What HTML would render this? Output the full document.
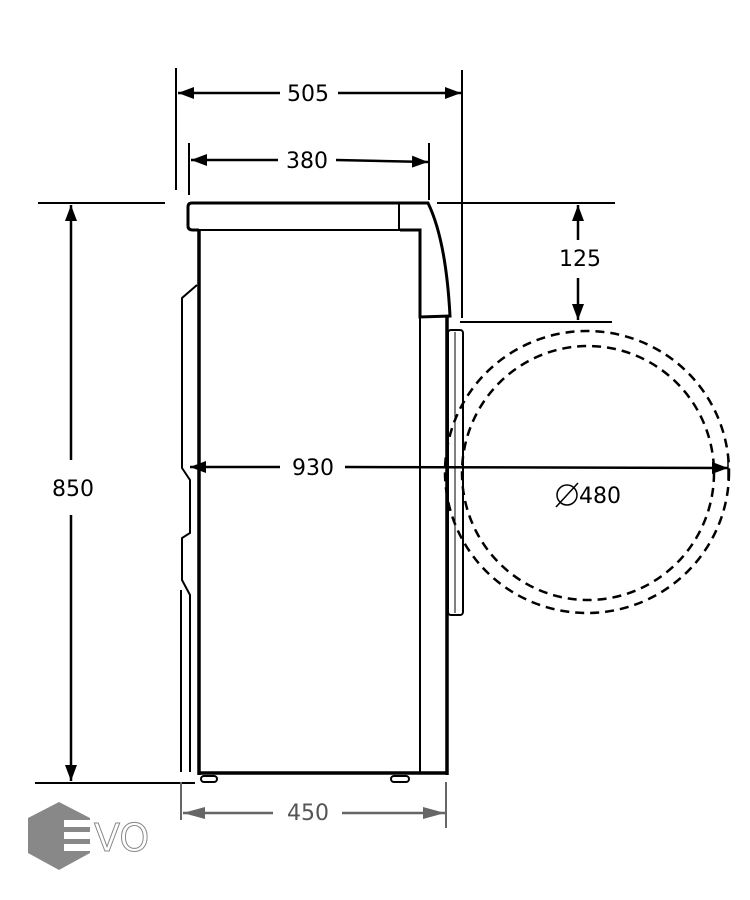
<!DOCTYPE html>
<html><head><meta charset="utf-8"><style>
html,body{margin:0;padding:0;background:#fff;}
svg{display:block;}
text{font-family:"DejaVu Sans","Liberation Sans",sans-serif;}
</style></head><body>
<svg width="750" height="900" viewBox="0 0 750 900" xmlns="http://www.w3.org/2000/svg">
<defs>
<marker id="a" viewBox="0 0 10 10" refX="10" refY="5" markerWidth="16" markerHeight="12" orient="auto-start-reverse" markerUnits="userSpaceOnUse" preserveAspectRatio="none"><path d="M0,0 L10,5 L0,10z" fill="#000"/></marker>
<marker id="g" viewBox="0 0 10 10" refX="10" refY="5" markerWidth="22" markerHeight="12" orient="auto-start-reverse" markerUnits="userSpaceOnUse" preserveAspectRatio="none"><path d="M0,0 L10,5 L0,10z" fill="#666"/></marker>
</defs>
<g fill="none" stroke="#000">
<path d="M192,203 L428,203 Q446,240 450,316 L420,317 L420,230 L400,230" stroke-width="3"/>
<path d="M400,230 L199,230" stroke-width="2"/>
<path d="M192,203 Q188,203 188,207 L188,226 Q188,230 193,230 L199,230" stroke-width="3"/>
<line x1="399" y1="203" x2="399" y2="230" stroke-width="2"/>
<line x1="199" y1="230" x2="199" y2="775" stroke-width="3.5"/>
<line x1="199" y1="773" x2="447" y2="773" stroke-width="3.5"/>
<line x1="447" y1="317" x2="447" y2="775" stroke-width="3.5"/>
<line x1="420" y1="317" x2="420" y2="773" stroke-width="2"/>
<rect x="448" y="330" width="15" height="285" rx="3" stroke-width="2"/>
<line x1="455" y1="332" x2="455" y2="613" stroke-width="1"/>
<path d="M197,285 L182,298 L182,468 L190,480 L190,533 L182,538 L182,580 L190,595 L190,772" stroke-width="2"/>
<line x1="181" y1="590" x2="181" y2="772" stroke-width="2"/>
<rect x="201" y="776" width="16" height="6" rx="3" stroke-width="2"/>
<rect x="391" y="776" width="18" height="6" rx="3" stroke-width="2"/>
<ellipse cx="587" cy="472" rx="142" ry="141" stroke-width="2.5" stroke-dasharray="9,6"/>
<ellipse cx="588" cy="473" rx="126" ry="127" stroke-width="2.5" stroke-dasharray="9,6"/>
<line x1="176" y1="68" x2="176" y2="190" stroke-width="2"/>
<line x1="462" y1="70" x2="462" y2="318" stroke-width="2"/>
<line x1="189" y1="143" x2="189" y2="195" stroke-width="2"/>
<line x1="429" y1="143" x2="429" y2="200" stroke-width="2"/>
<line x1="38" y1="203" x2="165" y2="203" stroke-width="2"/>
<line x1="35" y1="783" x2="195" y2="783" stroke-width="2"/>
<line x1="437" y1="203" x2="615" y2="203" stroke-width="2"/>
<line x1="460" y1="322" x2="612" y2="322" stroke-width="2"/>
<line x1="178" y1="93" x2="280" y2="93" stroke-width="2.5" marker-start="url(#a)"/>
<line x1="338" y1="93" x2="461" y2="93" stroke-width="2.5" marker-end="url(#a)"/>
<line x1="191" y1="160" x2="278" y2="160" stroke-width="2.5" marker-start="url(#a)"/>
<line x1="336" y1="160" x2="428" y2="162" stroke-width="2.5" marker-end="url(#a)"/>
<line x1="71" y1="205" x2="71" y2="460" stroke-width="2.5" marker-start="url(#a)"/>
<line x1="71" y1="515" x2="71" y2="781" stroke-width="2.5" marker-end="url(#a)"/>
<line x1="578" y1="240" x2="578" y2="205" stroke-width="2.5" marker-end="url(#a)"/>
<line x1="578" y1="278" x2="578" y2="320" stroke-width="2.5" marker-end="url(#a)"/>
<line x1="190" y1="467" x2="280" y2="467" stroke-width="2.5" marker-start="url(#a)"/>
<line x1="345" y1="467" x2="728" y2="468" stroke-width="2.5" marker-end="url(#a)"/>
<line x1="728" y1="455" x2="728" y2="480" stroke-width="1.5"/>
</g>
<g stroke="#666" fill="none">
<line x1="181" y1="782" x2="181" y2="820" stroke-width="2"/>
<line x1="446" y1="782" x2="446" y2="828" stroke-width="2"/>
<line x1="183" y1="813" x2="273" y2="813" stroke-width="2.5" marker-start="url(#g)"/>
<line x1="342" y1="813" x2="445" y2="813" stroke-width="2.5" marker-end="url(#g)"/>
</g>
<g font-size="22" fill="#000" text-anchor="middle">
<text x="308" y="101">505</text>
<text x="307" y="168">380</text>
<text x="73" y="496">850</text>
<text x="580" y="266">125</text>
<text x="313" y="475">930</text>
<text x="600" y="503">480</text>
<text x="308" y="820" fill="#555">450</text>
</g>
<g stroke="#000" stroke-width="1.5" fill="none">
<circle cx="567" cy="495" r="10"/>
<line x1="556" y1="507" x2="578" y2="483"/>
</g>
<polygon points="59,802 90,818 90,853 59,870 28,853 28,818" fill="#888"/>
<g fill="#fff">
<rect x="64" y="820" width="27" height="7"/>
<rect x="64" y="832" width="27" height="7"/>
<rect x="64" y="844" width="27" height="7"/>
</g>
<text x="94" y="851" font-size="38" fill="none" stroke="#888" stroke-width="1" font-family="Liberation Sans,sans-serif">VO</text>
</svg>
</body></html>
